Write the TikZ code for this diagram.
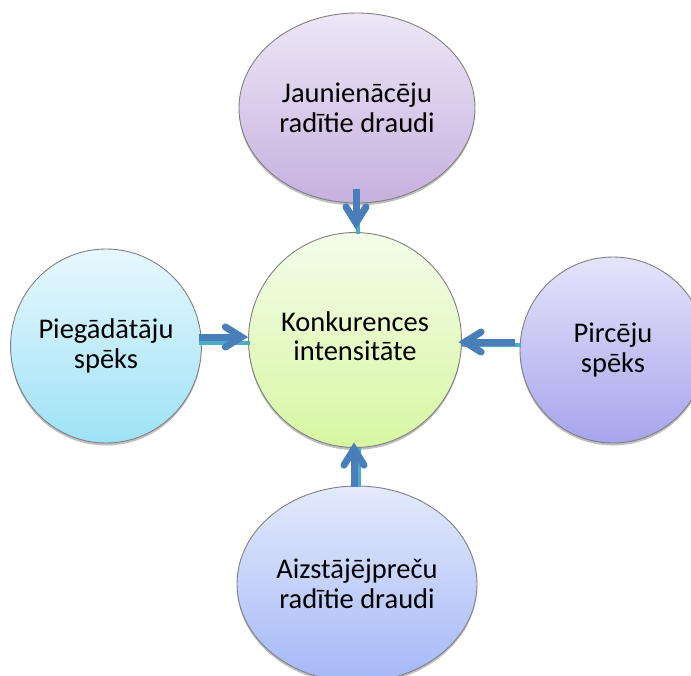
\documentclass[tikz,border=0pt]{standalone}
\usepackage{fontspec}
\setmainfont{Carlito}
\usetikzlibrary{shapes.geometric,shadows,calc}
\definecolor{edgegray}{HTML}{808080}
\definecolor{arrowblue}{HTML}{4A7EBB}
\definecolor{arrowteal}{HTML}{4BACC6}
\definecolor{topA}{HTML}{EDE7F6}\definecolor{topB}{HTML}{C6B0DF}
\definecolor{cenA}{HTML}{F3FDE9}\definecolor{cenB}{HTML}{D8F6A2}
\definecolor{lefA}{HTML}{E7F8FD}\definecolor{lefB}{HTML}{9EE2F7}
\definecolor{rigA}{HTML}{E6E4FA}\definecolor{rigB}{HTML}{A7A4EE}
\definecolor{botA}{HTML}{E4EAFC}\definecolor{botB}{HTML}{A4B8F7}
\newcommand\forcearrow[2]{%
  \coordinate (tmpP) at ($(#2)!6.6pt!(#1)$);
  \draw[shaftline] (#1) -- (tmpP);
  \draw[headline] ($(tmpP)!19pt!32:(#1)$) -- (tmpP) -- ($(tmpP)!19pt!-32:(#1)$);
}
\begin{document}
\begin{tikzpicture}[x=1pt,y=-1pt,
  bubble/.style={ellipse, draw=edgegray, line width=0.9pt, inner sep=0pt,
    align=center, font=\fontsize{28.5}{29.5}\selectfont,
    drop shadow={shadow xshift=0pt, shadow yshift=-2.5pt, opacity=0.25, fill=black}},
  shaftline/.style={draw=arrowblue, line width=7pt, line cap=butt},
  headline/.style={draw=arrowblue, line width=7pt, line cap=round, line join=miter},
  tealline/.style={draw=arrowteal, line width=3.5pt}]
\clip (0,0) rectangle (691,675);
\fill[white] (0,0) rectangle (691,675);
\node[bubble, minimum width=236pt, minimum height=190pt, top color=topA, bottom color=topB]
  (top) at (357,108) {Jaunienācēju\\radītie draudi};
\node[bubble, minimum width=213pt, minimum height=215pt, top color=cenA, bottom color=cenB]
  (center) at (355,340) {\raisebox{-7pt}{\begin{tabular}{@{}c@{}}Konkurences\\[-0.5pt]intensitāte\end{tabular}}};
\node[bubble, minimum width=190pt, minimum height=194pt, top color=lefA, bottom color=lefB]
  (left) at (106,346) {Piegādātāju\\spēks};
\node[bubble, minimum width=186pt, minimum height=186pt, top color=rigA, bottom color=rigB]
  (right) at (613,350) {Pircēju\\spēks};
\node[bubble, minimum width=240pt, minimum height=196pt, top color=botA, bottom color=botB]
  (bottom) at (357,584) {Aizstājējpreču\\radītie draudi};
% left connector
\coordinate (lT1) at ($(left.east)+(-3,-3)$);
\coordinate (lT2) at ($(center.west)+(1.5,3)$);
\coordinate (lB1) at ($(left.east)+(-3,-9)$);
\coordinate (lB2) at ($(center.west)+(0,-3)$);
\draw[tealline] (lT1) -- (lT2);
\forcearrow{lB1}{lB2}
% top connector
\coordinate (tT1) at ($(top.south)+(1,-14)$);
\coordinate (tT2) at ($(center.north)+(3,1.5)$);
\coordinate (tB1) at ($(top.south)+(-1,-14)$);
\coordinate (tB2) at ($(center.north)+(1,-2.5)$);
\draw[tealline] (tT1) -- (tT2);
\forcearrow{tB1}{tB2}
% right connector
\coordinate (rT1) at ($(right.west)+(1,-5)$);
\coordinate (rT2) at ($(center.east)+(0,5)$);
\coordinate (rB1) at ($(right.west)+(-5,-8)$);
\coordinate (rB2) at ($(center.east)+(-3.5,2)$);
\draw[tealline] (rT1) -- (rT2);
\forcearrow{rB1}{rB2}
% bottom connector
\coordinate (bT1) at ($(bottom.north)+(2,1)$);
\coordinate (bT2) at ($(center.south)+(4,0)$);
\coordinate (bB1) at ($(bottom.north)+(-3,1)$);
\coordinate (bB2) at ($(center.south)+(-1,-5.5)$);
\draw[tealline] (bT1) -- (bT2);
\forcearrow{bB1}{bB2}
\end{tikzpicture}
\end{document}
